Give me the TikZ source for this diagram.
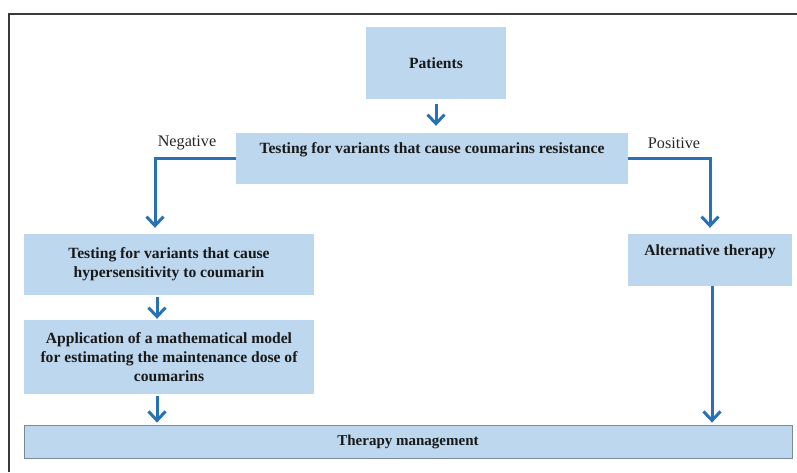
\documentclass[tikz,border=0pt]{standalone}
\usepackage{fontspec}
\setmainfont{Liberation Serif}
\usetikzlibrary{arrows.meta,positioning,calc}
\definecolor{boxfill}{HTML}{BDD7EE}
\definecolor{arrowblue}{HTML}{2771B4}
\definecolor{framegray}{HTML}{3A3A3A}
\definecolor{edgegray}{HTML}{7A8A9A}
\tikzset{
  box/.style={fill=boxfill, draw=none, inner sep=0pt, align=center,
    font=\fontsize{15.6}{19.2}\selectfont\bfseries, text=black!90},
  boxtext/.style={inner sep=0pt, align=center,
    font=\fontsize{15.6}{19.2}\selectfont\bfseries, text=black!90},
  lbl/.style={inner sep=0pt, font=\fontsize{16.2}{18}\selectfont, text=black!85},
  conn/.style={draw=arrowblue, line width=3pt,
    -{Straight Barb[length=9pt,width=17pt,line width=3pt]}}
}
\begin{document}
\begin{tikzpicture}[x=1pt,y=-1pt]
\useasboundingbox (0,0) rectangle (797,472);
% frame
\draw[framegray, line width=1.3pt] (9,472) -- (9,14) -- (797,14);

% boxes
\node[box, minimum width=140pt, minimum height=72pt] (patients) at (436,63) {Patients};
\node[box, minimum width=392pt, minimum height=51pt] (test) at (432,158.5) {};
\node[boxtext] (testtxt) at (432,150) {Testing for variants that cause coumarins resistance};
\node[box, minimum width=290pt, minimum height=61pt] (hyper) at (169,264.5)
  {Testing for variants that cause\\hypersensitivity to coumarin};
\node[box, minimum width=290pt, minimum height=74pt] (app) at (169,357)
  {Application of a mathematical model\\for estimating the maintenance dose of\\coumarins};
\node[box, minimum width=164pt, minimum height=52pt] (alt) at (710,260) {};
\node[boxtext] (alttxt) at (710,252) {Alternative therapy};
\node[box, draw=edgegray, line width=0.8pt, minimum width=768pt, minimum height=33pt,
  font=\fontsize{15}{18}\selectfont\bfseries] (therapy) at (408,441.5) {Therapy management};

% labels
\node[lbl] (neg) at (187,143) {Negative};
\node[lbl] (pos) at (674,143) {Positive};

% connectors
\coordinate (negcorner) at (155,158.5);
\draw[conn, shorten <=5pt, shorten >=7pt] (patients.south) -- (patients.south |- test.north);
\draw[conn, shorten >=6pt] (test.west) -- (negcorner) -- (negcorner |- hyper.north);
\draw[conn, shorten >=6pt] (test.east) -| (alt.north);
\draw[conn, shorten <=2pt, shorten >=1pt] ([xshift=-12pt]hyper.south) -- ([xshift=-12pt]app.north);
\draw[conn, shorten <=2pt, shorten >=2pt] ([xshift=-12pt]app.south) -- ([xshift=-12pt]app.south |- therapy.north);
\draw[conn, shorten >=2pt] ([xshift=2pt]alt.south) -- ([xshift=2pt]alt.south |- therapy.north);
\end{tikzpicture}
\end{document}
